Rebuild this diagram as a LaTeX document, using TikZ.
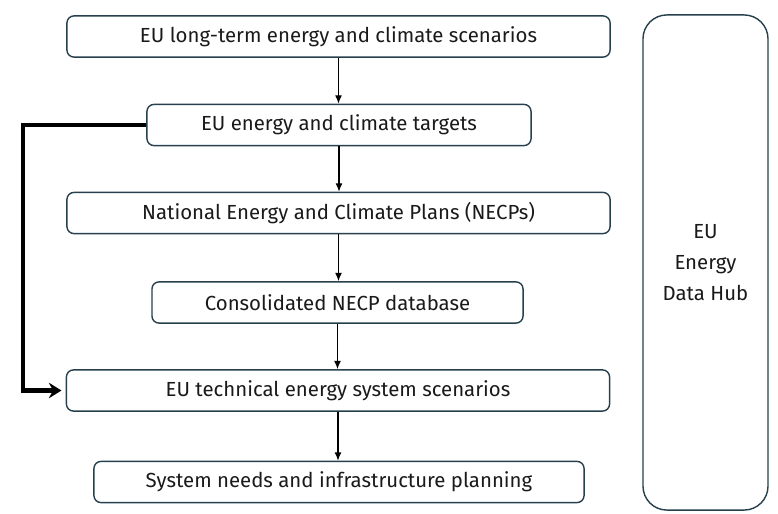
\documentclass[tikz,border=0pt]{standalone}
\usepackage{fontspec}
\setmainfont{Fira Sans}
\usetikzlibrary{arrows.meta}
\definecolor{boxline}{HTML}{27404D}
\definecolor{txt}{HTML}{1A1A1A}

\begin{document}
\begin{tikzpicture}[x=0.025cm,y=-0.025cm,
  stage/.style={draw=boxline,line width=1pt,rounded corners=5pt,fill=white,
    minimum height=1.03cm,inner sep=0pt,text=txt,font=\fontsize{14.5}{22}\selectfont},
  flow/.style={-{Latex[length=6pt,width=5pt]},line width=0.9pt},
  loop/.style={-{Stealth[length=9pt,width=11pt,inset=3pt]},line width=3pt}]
  \useasboundingbox (0,0) rectangle (778,514);
  \node[stage,minimum width=13.575cm] (n1) at (338.5,36.5) {EU long-term energy and climate scenarios};
  \node[stage,minimum width=9.6cm]    (n2) at (339,125)    {EU energy and climate targets};
  \node[stage,minimum width=13.575cm] (n3) at (338.5,213)  {National Energy and Climate Plans (NECPs)};
  \node[stage,minimum width=9.275cm]  (n4) at (337.5,302.5) {Consolidated NECP database};
  \node[stage,minimum width=13.575cm] (n5) at (338,390.5)  {EU technical energy system scenarios};
  \node[stage,minimum width=12.25cm]  (n6) at (339,482)    {System needs and infrastructure planning};
  \node[stage,rounded corners=17pt,minimum width=3.125cm,minimum height=12.375cm,align=center]
    (hub) at (705.5,262.5) {EU\\Energy\\Data Hub};
  % main chain
  \draw[flow] (n1.south) -- (n1.south |- n2.north);
  \draw[flow] (n2.south) -- (n2.south |- n3.north);
  \draw[flow] (n3.south) -- (n3.south |- n4.north);
  \draw[flow] (n4.south) -- (n4.south |- n5.north);
  \draw[flow] (n5.south) -- (n5.south |- n6.north);
  % targets feed back into scenarios
  \draw[loop,shorten >=3pt] (n2.west) -- ++(-123,0) |- (n5.west);
\end{tikzpicture}
\end{document}
